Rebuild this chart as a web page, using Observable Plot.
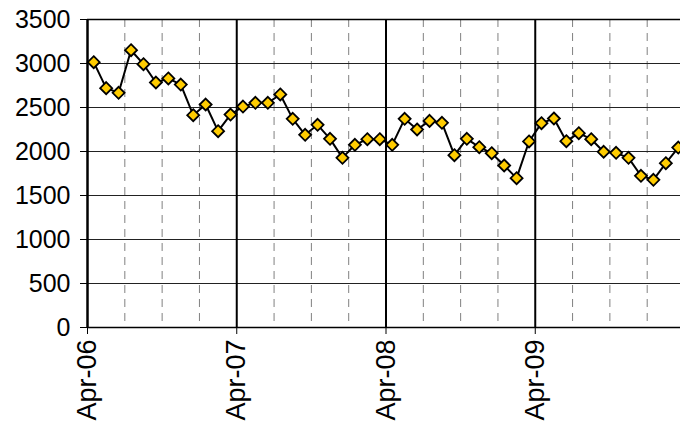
<!DOCTYPE html>
<html><head><meta charset="utf-8">
<script src="https://cdn.jsdelivr.net/npm/d3@7"></script>
<script src="https://cdn.jsdelivr.net/npm/@observablehq/plot@0.6"></script>
<style>html,body{margin:0;padding:0;background:#fff;overflow:hidden} svg{max-width:none !important}</style>
</head><body><div id="chart"></div>
<script>
// Monthly values, Apr-06 .. Mar-10
const values = [3015,2720,2667,3151,2992,2784,2830,2761,2413,2534,2231,2420,
  2511,2553,2553,2648,2371,2190,2303,2144,1928,2076,2140,2140,
  2076,2371,2250,2348,2326,1958,2144,2049,1981,1841,1697,2114,
  2322,2375,2117,2208,2140,1997,1985,1928,1724,1678,1867,2045];
const yTicks = [0,500,1000,1500,2000,2500,3000,3500];
const yearTicks = [0,12,24,36];           // month index of each April
const yearLabels = ["Apr-06","Apr-07","Apr-08","Apr-09"];
const quarterTicks = [3,6,9,15,18,21,27,30,33,39,42,45];
const nMonths = 48;

const data = values.map((v,i)=>({m:i+0.5, v}));

const chart = Plot.plot({
  width: 690, height: 429,
  marginLeft: 87, marginRight: 6, marginTop: 19, marginBottom: 102,
  style: {fontFamily: "'Liberation Sans', Arial, sans-serif", fontSize: "25px", color: "#000", background: "#fff", maxWidth: "none"},
  x: {type: "linear", domain: [0, nMonths], axis: null},
  y: {domain: [0, 3500], axis: null},
  marks: [
    Plot.ruleX(quarterTicks, {stroke: "#808080", strokeWidth: 1, strokeDasharray: "8,6"}),
    Plot.ruleY(yTicks.filter(d => d > 0 && d < 3500), {stroke: "#222", strokeWidth: 1}),
    Plot.ruleY([3500], {stroke: "#000", strokeWidth: 1.5}),
    Plot.ruleX(yearTicks.filter(d => d > 0), {stroke: "#000", strokeWidth: 2}),
    Plot.ruleX([0], {stroke: "#000", strokeWidth: 2.5}),
    Plot.ruleY([0], {stroke: "#000", strokeWidth: 1.5}),
    Plot.axisY(yTicks, {tickSize: 7, tickPadding: 10, fontSize: 25, stroke: "#000", label: null,
      tickFormat: d => String(d)}),
    Plot.axisX(yearTicks, {tickSize: 7, tickPadding: 5, tickRotate: -90, fontSize: 27, label: null,
      tickFormat: (d) => yearLabels[yearTicks.indexOf(d)], stroke: "#000"}),
    Plot.line(data, {x: "m", y: "v", stroke: "#000", strokeWidth: 2}),
    Plot.dot(data, {x: "m", y: "v", symbol: "diamond2", r: 5.4, fill: "#FFCC00", stroke: "#000", strokeWidth: 1.8})
  ]
});
document.getElementById("chart").appendChild(chart);
</script></body></html>
